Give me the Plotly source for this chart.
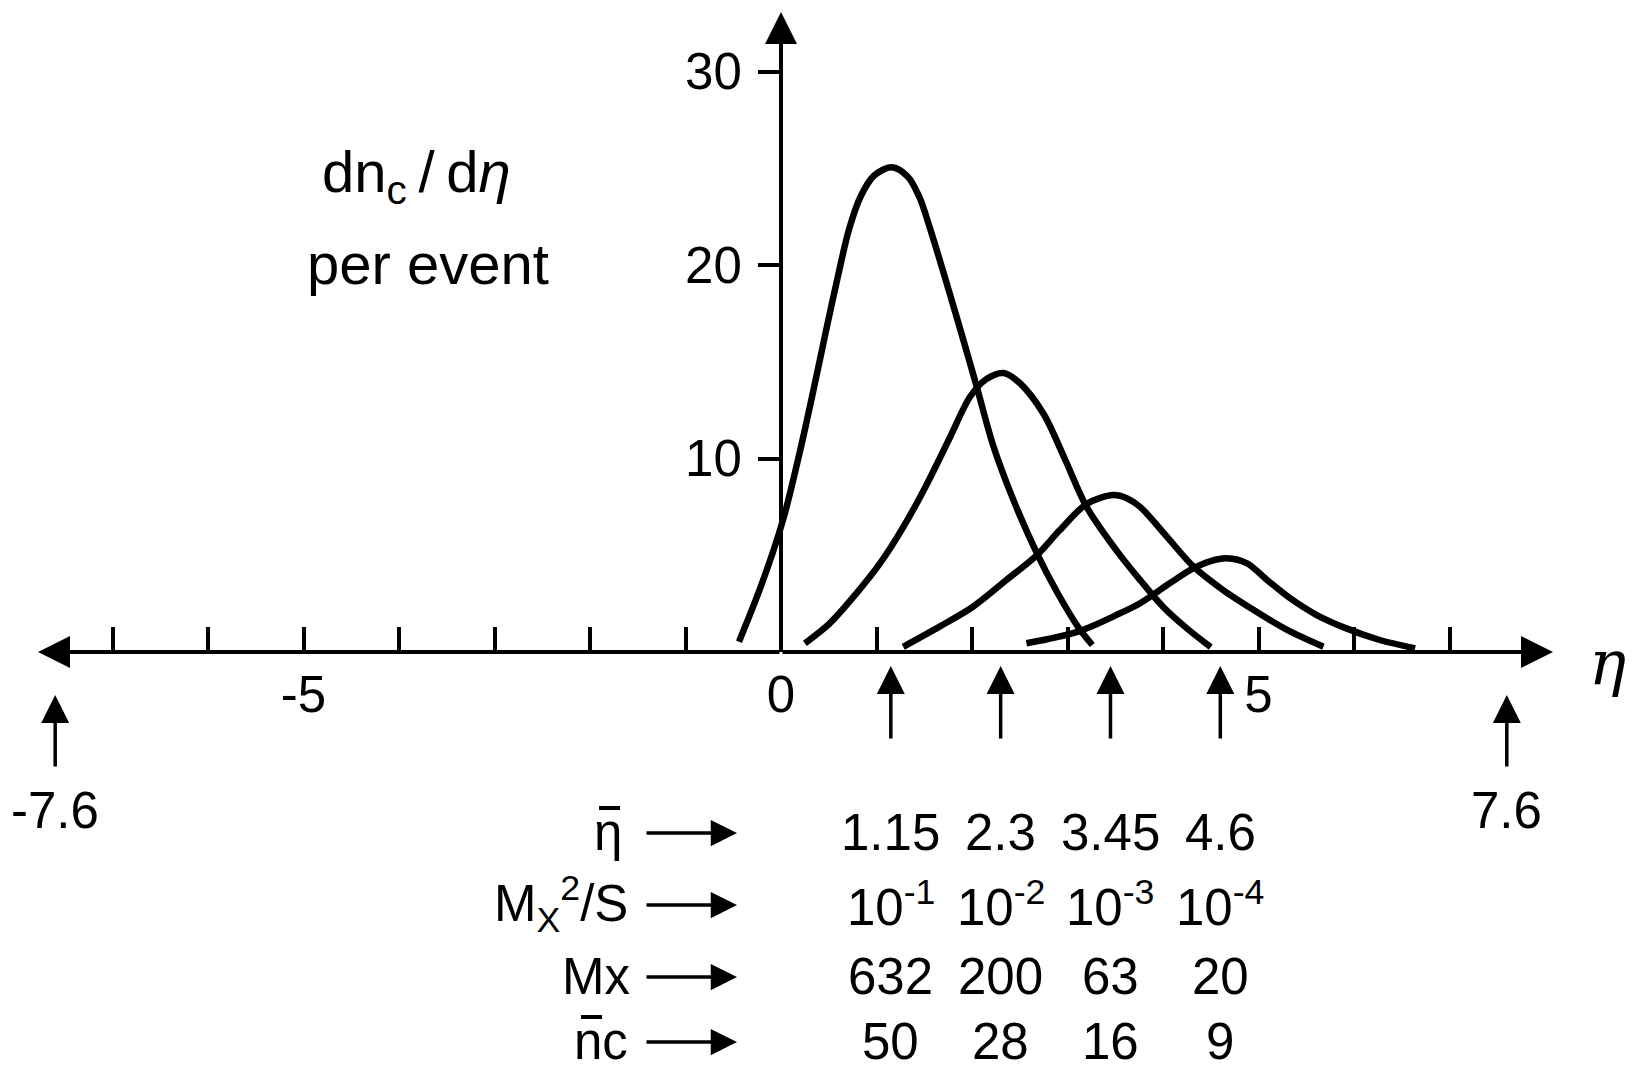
import plotly.graph_objects as go

# ---------------- data ----------------
# four dn_c/d(eta) curves (eta, dn_c/d eta per event)
eta_c1 = [-0.44, -0.21, 0.02, 0.20, 0.36, 0.48, 0.60, 0.71, 0.83, 0.97, 1.16, 1.33, 1.45, 1.56, 1.84, 2.05, 2.22, 2.43, 2.68, 2.89, 3.11, 3.26]
dn_c1 = [0.53, 3.4, 6.8, 10.4, 14.0, 16.8, 19.5, 21.8, 23.5, 24.6, 25.05, 24.55, 23.5, 21.9, 17.3, 13.7, 10.7, 7.9, 5.1, 3.1, 1.3, 0.36]

eta_c2 = [0.25, 0.51, 0.79, 1.04, 1.28, 1.53, 1.77, 1.98, 2.15, 2.33, 2.50, 2.75, 2.97, 3.20, 3.52, 3.76, 4.00, 4.25, 4.50]
dn_c2 = [0.45, 1.48, 3.03, 4.6, 6.45, 8.7, 11.1, 13.19, 14.1, 14.42, 13.9, 12.3, 10.0, 7.5, 5.2, 3.72, 2.34, 1.22, 0.25]

eta_c3 = [1.28, 1.66, 2.01, 2.36, 2.68, 2.92, 3.20, 3.48, 3.62, 3.76, 4.04, 4.32, 4.63, 4.95, 5.30, 5.68]
dn_c3 = [0.27, 1.31, 2.34, 3.72, 5.01, 6.3, 7.65, 8.11, 7.95, 7.5, 5.96, 4.41, 3.2, 2.17, 1.14, 0.27]

eta_c4 = [2.57, 3.11, 3.55, 3.76, 4.07, 4.32, 4.50, 4.67, 4.88, 5.09, 5.33, 5.61, 5.92, 6.27, 6.64]
dn_c4 = [0.45, 1.05, 2.0, 2.52, 3.55, 4.33, 4.7, 4.84, 4.58, 3.72, 2.78, 1.91, 1.22, 0.62, 0.19]

# arrows below the axis
eta_bar = [1.15, 2.3, 3.45, 4.6]
eta_limits = [-7.6, 7.6]
limit_labels = ["-7.6", "7.6"]

# table below the chart
row_names = ["η", "M<sub>X</sub><sup>2</sup>/S", "Mx", "nc"]
row_barred = [True, False, False, True]
row_etabar = ["1.15", "2.3", "3.45", "4.6"]
row_mx2s = ["10<sup>-1</sup>", "10<sup>-2</sup>", "10<sup>-3</sup>", "10<sup>-4</sup>"]
row_mx = ["632", "200", "63", "20"]
row_nc = ["50", "28", "16", "9"]

# axes
x_label_vals = [-5, 0, 5]
x_label_text = ["-5", "0", "5"]
x_minor_vals = [-7, -6, -4, -3, -2, -1, 1, 2, 3, 4, 6, 7]
y_tickvals = [10, 20, 30]
y_ticktext = ["10", "20", "30"]
y_label = "dn<sub>c</sub>\u2009/\u2009d<i>η</i>"
y_label2 = "per event"
x_label = "<i>η</i>"

# ---------------- layout constants ----------------
W, H = 1634, 1069
X0, XU = 781.0, 95.5      # pixel of eta=0, pixels per unit
Y0, YU = 652.0, 19.35     # pixel of y=0, pixels per unit
FONT = "Liberation Sans"
NUM = 51


def dx(px):
    return (px - X0) / XU


def dy(py):
    return (Y0 - py) / YU


fig = go.Figure()
for xs, ys in [(eta_c1, dn_c1), (eta_c2, dn_c2), (eta_c3, dn_c3), (eta_c4, dn_c4)]:
    fig.add_trace(go.Scatter(x=xs, y=ys, mode="lines",
                             line=dict(color="black", width=6.5, shape="spline", smoothing=0.9),
                             hoverinfo="skip", showlegend=False))

ann = []
shapes = []
# axis lines with arrowheads
for tip_x, tip_y in [(dx(38), 0), (dx(1553), 0), (0, dy(12))]:
    ann.append(dict(x=tip_x, y=tip_y, ax=0, ay=0, xref="x", yref="y", axref="x", ayref="y",
                    text="", showarrow=True, arrowhead=2, arrowsize=1.6, arrowwidth=4,
                    arrowcolor="black"))

# eta-bar arrows
for v in eta_bar:
    ann.append(dict(x=v, y=dy(666), ax=v, ay=dy(740), xref="x", yref="y", axref="x", ayref="y",
                    text="", showarrow=True, arrowhead=2, arrowsize=1.6, arrowwidth=3.5,
                    arrowcolor="black"))
# kinematic limit arrows
for v, lab in zip(eta_limits, limit_labels):
    ann.append(dict(x=v, y=dy(695), ax=v, ay=dy(768), xref="x", yref="y", axref="x", ayref="y",
                    text="", showarrow=True, arrowhead=2, arrowsize=1.6, arrowwidth=3.5,
                    arrowcolor="black"))
    ann.append(dict(x=v, y=dy(810), xref="x", yref="y", text=lab, showarrow=False,
                    font=dict(family=FONT, size=NUM, color="black"), xanchor="center", yanchor="middle"))

# table
row_y = [832, 904, 976, 1041]
name_right = [624, 630, 632, 630]
rows = [row_etabar, row_mx2s, row_mx, row_nc]
for name, barred, vals, py, xr in zip(row_names, row_barred, rows, row_y, name_right):
    ann.append(dict(x=dx(xr), y=dy(py), xref="x", yref="y", text=name, showarrow=False,
                    font=dict(family=FONT, size=NUM, color="black"), xanchor="right", yanchor="middle"))
    if barred:
        # overbar of the symbol (eta-bar, n-bar)
        bx1 = xr - 4 if name == "η" else xr - 28
        shapes.append(dict(type="line", xref="x", yref="y",
                           x0=dx(bx1 - 21), x1=dx(bx1), y0=dy(py - 24), y1=dy(py - 24),
                           line=dict(color="black", width=4)))
    ann.append(dict(x=dx(737), y=dy(py + 1), ax=dx(645), ay=dy(py + 1), xref="x", yref="y",
                    axref="x", ayref="y", text="", showarrow=True, arrowhead=2, arrowsize=1.5,
                    arrowwidth=3.5, arrowcolor="black"))
    for v, t in zip(eta_bar, vals):
        ann.append(dict(x=v, y=dy(py), xref="x", yref="y", text=t, showarrow=False,
                        font=dict(family=FONT, size=NUM, color="black"), xanchor="center", yanchor="middle"))

# axis titles
ann.append(dict(x=417 / W, y=1 - 176 / H, xref="paper", yref="paper", text=y_label, showarrow=False,
                font=dict(family=FONT, size=58, color="black"), xanchor="center", yanchor="middle"))
ann.append(dict(x=428 / W, y=1 - 263 / H, xref="paper", yref="paper", text=y_label2, showarrow=False,
                font=dict(family=FONT, size=58, color="black"), xanchor="center", yanchor="middle"))
ann.append(dict(x=dx(1607), y=dy(662), xref="x", yref="y", text=x_label, showarrow=False,
                font=dict(family="DejaVu Serif", size=62, color="black"), xanchor="center", yanchor="middle"))

fig.update_layout(
    width=W, height=H, margin=dict(l=0, r=0, t=0, b=0),
    paper_bgcolor="white", plot_bgcolor="white",
    annotations=ann, shapes=shapes,
    xaxis=dict(range=[dx(0), dx(W)], domain=[0, 1], anchor="free", position=(H - Y0) / H,
               showgrid=False, zeroline=False, showline=False,
               tickmode="array", tickvals=x_label_vals, ticktext=x_label_text,
               ticks="inside", ticklen=25, tickwidth=4, tickcolor="black",
               tickfont=dict(family=FONT, size=NUM, color="black"), ticklabelstandoff=8,
               minor=dict(tickmode="array", tickvals=x_minor_vals, ticks="inside", ticklen=25,
                          tickwidth=4, tickcolor="black", showgrid=False)),
    yaxis=dict(range=[dy(H), dy(0)], domain=[0, 1], anchor="free", position=X0 / W,
               showgrid=False, zeroline=False, showline=False,
               tickmode="array", tickvals=y_tickvals, ticktext=y_ticktext,
               ticks="outside", ticklen=23, tickwidth=4, tickcolor="black",
               tickfont=dict(family=FONT, size=NUM, color="black"), ticklabelstandoff=6),
)

fig.write_html("out.html")
